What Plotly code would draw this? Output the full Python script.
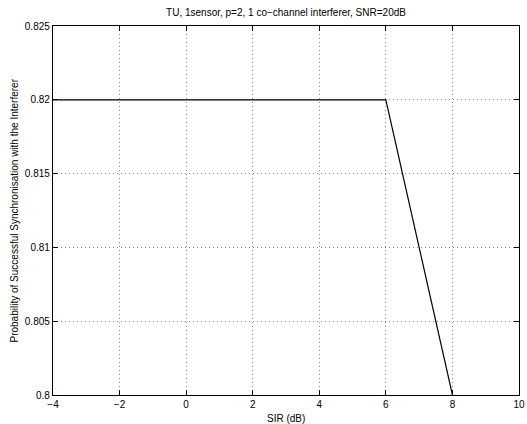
import plotly.graph_objects as go

sir_db = [-4, -2, 0, 2, 4, 6, 8]
prob_sync = [0.82, 0.82, 0.82, 0.82, 0.82, 0.82, 0.80]

x_ticks = [-4, -2, 0, 2, 4, 6, 8, 10]
x_tick_labels = ["\u22124", "\u22122", "0", "2", "4", "6", "8", "10"]
y_ticks = [0.8, 0.805, 0.81, 0.815, 0.82, 0.825]
y_tick_labels = ["0.8", "0.805", "0.81", "0.815", "0.82", "0.825"]

font_family = "Liberation Sans, Arial, Helvetica, sans-serif"
W, H = 527, 424
L, R, T, B = 53, 8, 26, 29

fig = go.Figure()
fig.add_trace(go.Scatter(x=sir_db, y=prob_sync, mode="lines",
                         line=dict(color="black", width=1.2), showlegend=False,
                         hoverinfo="skip"))

axis_common = dict(
    showline=True, linecolor="black", linewidth=1.3, mirror="ticks",
    ticks="inside", ticklen=5, tickcolor="black", tickwidth=1,
    showgrid=True, gridcolor="#8a8a8a", griddash="1px,3px", gridwidth=1,
    zeroline=False, automargin=False,
    tickfont=dict(size=10, color="black", family=font_family),
)

fig.update_layout(
    width=W, height=H,
    margin=dict(l=L, r=R, t=T, b=B, autoexpand=False),
    paper_bgcolor="white", plot_bgcolor="white",
    font=dict(family=font_family, size=10, color="black"),
    title=dict(text="TU, 1sensor, p=2, 1 co\u2212channel interferer, SNR=20dB",
               x=(L + W - R) / 2 / W, xanchor="center", y=1 - 12 / H, yanchor="middle",
               font=dict(size=10, family=font_family, color="black")),
    xaxis=dict(range=[-4, 10], tickvals=x_ticks, ticktext=x_tick_labels,
               **axis_common),
    yaxis=dict(range=[0.8, 0.825], tickvals=y_ticks, ticktext=y_tick_labels,
               **axis_common),
    annotations=[
        dict(text="SIR (dB)", xref="paper", yref="paper",
             x=0.5, y=-(418 - (H - B)) / (H - T - B), xanchor="center", yanchor="middle",
             showarrow=False, font=dict(size=10)),
        dict(text="Probability of Successful Synchronisation with the Interferer",
             xref="paper", yref="paper", x=-(L - 14) / (W - L - R), y=0.5,
             xanchor="center", yanchor="middle", textangle=-90,
             showarrow=False, font=dict(size=10)),
    ],
)

fig.write_html("out.html", config={"displayModeBar": False},
               post_script="document.body.style.margin='0';document.body.style.overflow='hidden';")
